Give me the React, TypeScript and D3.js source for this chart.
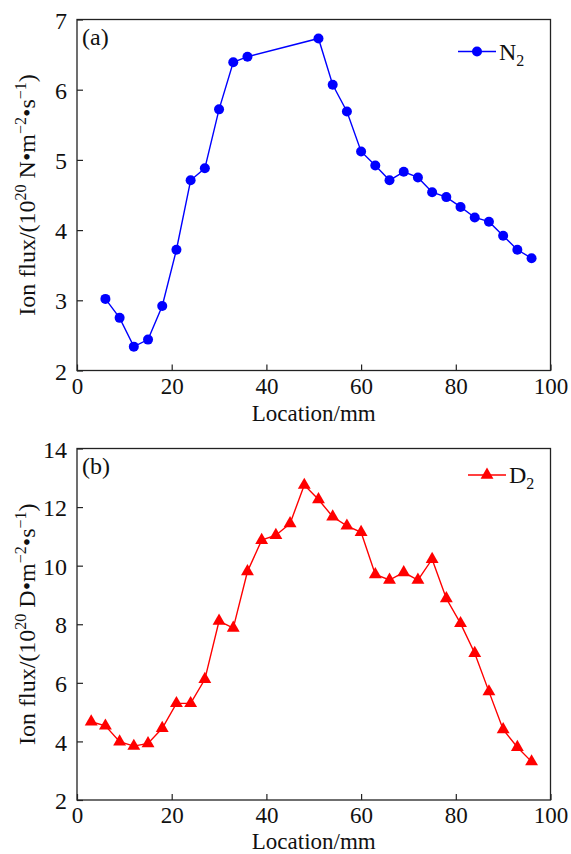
import React, { useEffect, useRef } from "react";
import * as d3 from "d3";

// N2 ion flux along the target (units of 1e20 N·m^-2·s^-1)
const locationN2 = [6, 9, 12, 15, 18, 21, 24, 27, 30, 33, 36, 51, 54, 57, 60, 63, 66, 69, 72, 75, 78, 81, 84, 87, 90, 93, 96];
const fluxN2 = [3.02, 2.75, 2.34, 2.44, 2.92, 3.72, 4.71, 4.88, 5.72, 6.39, 6.47, 6.73, 6.07, 5.69, 5.12, 4.92, 4.71, 4.83, 4.75, 4.54, 4.47, 4.33, 4.18, 4.12, 3.92, 3.72, 3.6];

// D2 ion flux along the target (units of 1e20 D·m^-2·s^-1)
const locationD2 = [3, 6, 9, 12, 15, 18, 21, 24, 27, 30, 33, 36, 39, 42, 45, 48, 51, 54, 57, 60, 63, 66, 69, 72, 75, 78, 81, 84, 87, 90, 93, 96];
const fluxD2 = [4.67, 4.53, 3.99, 3.84, 3.93, 4.45, 5.3, 5.3, 6.12, 8.11, 7.87, 9.8, 10.87, 11.04, 11.44, 12.75, 12.26, 11.67, 11.36, 11.14, 9.7, 9.51, 9.77, 9.51, 10.22, 8.88, 8.03, 7.01, 5.7, 4.41, 3.8, 3.31];

const xTicks = [0, 20, 40, 60, 80, 100];
const yTicksA = [2, 3, 4, 5, 6, 7];
const yTicksB = [2, 4, 6, 8, 10, 12, 14];

const W = 571;
const H = 854;
const FONT = "Liberation Serif, Times New Roman, DejaVu Serif, serif";
const FS = 24;
const TICK_FS = 23;
const SUB = 16;

type Panel = {
  top: number;
  bottom: number;
  xs: number[];
  ys: number[];
  yTicks: number[];
  color: string;
  marker: "circle" | "triangle";
  tag: string;
  species: string;
  legendX: number;
  legendY: number;
  titleY: number;
};

const LEFT = 77;
const RIGHT = 550.5;

const panels: Panel[] = [
  {
    top: 19.5,
    bottom: 370.5,
    xs: locationN2,
    ys: fluxN2,
    yTicks: yTicksA,
    color: "#0000ff",
    marker: "circle",
    tag: "(a)",
    species: "N",
    legendX: 458,
    legendY: 51.5,
    titleY: 421,
  },
  {
    top: 448.5,
    bottom: 800,
    xs: locationD2,
    ys: fluxD2,
    yTicks: yTicksB,
    color: "#ff0000",
    marker: "triangle",
    tag: "(b)",
    species: "D",
    legendX: 468,
    legendY: 475,
    titleY: 849,
  },
];

export default function App() {
  const ref = useRef<SVGSVGElement | null>(null);

  useEffect(() => {
    const svg = d3.select(ref.current);
    svg.selectAll("*").remove();

    panels.forEach((p) => {
      const x = d3.scaleLinear().domain([0, 100]).range([LEFT, RIGHT]);
      const yMin = p.yTicks[0];
      const yMax = p.yTicks[p.yTicks.length - 1];
      const y = d3.scaleLinear().domain([yMin, yMax]).range([p.bottom, p.top]);
      const g = svg.append("g");

      // frame
      g.append("rect")
        .attr("x", LEFT)
        .attr("y", p.top)
        .attr("width", RIGHT - LEFT)
        .attr("height", p.bottom - p.top)
        .attr("fill", "none")
        .attr("stroke", "#222")
        .attr("stroke-width", 1.3);

      // inward ticks on bottom and left axes
      const xAxis = d3.axisBottom(x).tickValues(xTicks).tickSizeInner(-6).tickSizeOuter(0).tickPadding(7).tickFormat(d3.format("d"));
      const gx = g.append("g").attr("transform", `translate(0,${p.bottom})`).call(xAxis);
      gx.select(".domain").remove();
      gx.selectAll("line").attr("stroke", "#222").attr("stroke-width", 1.2);
      gx.selectAll("text")
        .attr("fill", "#111")
        .attr("font-family", FONT)
        .attr("font-size", TICK_FS)
        .attr("dy", "0.7em");

      const yAxis = d3.axisLeft(y).tickValues(p.yTicks).tickSizeInner(-6).tickSizeOuter(0).tickPadding(10).tickFormat(d3.format("d"));
      const gy = g.append("g").attr("transform", `translate(${LEFT},0)`).call(yAxis);
      gy.select(".domain").remove();
      gy.selectAll("line").attr("stroke", "#222").attr("stroke-width", 1.2);
      gy.selectAll("text")
        .attr("fill", "#111")
        .attr("font-family", FONT)
        .attr("font-size", FS)
        .attr("dy", "0.36em");

      // series line
      const line = d3
        .line<number>()
        .x((_, i) => x(p.xs[i]))
        .y((d) => y(d));
      g.append("path")
        .attr("d", line(p.ys) as string)
        .attr("fill", "none")
        .attr("stroke", p.color)
        .attr("stroke-width", 1.4);

      const symbol =
        p.marker === "circle"
          ? d3.symbol().type(d3.symbolCircle).size(Math.PI * 25)
          : d3.symbol().type(d3.symbolTriangle).size(72);

      g.selectAll("path.mark")
        .data(p.ys)
        .enter()
        .append("path")
        .attr("class", "mark")
        .attr("d", symbol() as string)
        .attr("transform", (d, i) => `translate(${x(p.xs[i])},${y(d)})`)
        .attr("fill", p.color);

      // panel tag
      g.append("text")
        .attr("x", LEFT + 5)
        .attr("y", p.top + 25.5)
        .attr("font-family", FONT)
        .attr("font-size", FS)
        .attr("fill", "#111")
        .text(p.tag);

      // legend
      g.append("line")
        .attr("x1", p.legendX)
        .attr("x2", p.legendX + 38)
        .attr("y1", p.legendY)
        .attr("y2", p.legendY)
        .attr("stroke", p.color)
        .attr("stroke-width", 1.4);
      g.append("path")
        .attr("d", symbol() as string)
        .attr("transform", `translate(${p.legendX + 19},${p.legendY})`)
        .attr("fill", p.color);
      const lt = g
        .append("text")
        .attr("x", p.legendX + 41)
        .attr("y", p.legendY + 8)
        .attr("font-family", FONT)
        .attr("font-size", FS)
        .attr("fill", "#111");
      lt.append("tspan").text(p.species);
      lt.append("tspan").attr("font-size", SUB).attr("dy", 6).text("2");

      // x-axis title
      g.append("text")
        .attr("x", (LEFT + RIGHT) / 2)
        .attr("y", p.titleY)
        .attr("text-anchor", "middle")
        .attr("font-family", FONT)
        .attr("font-size", 23)
        .attr("fill", "#111")
        .text("Location/mm");

      // y-axis title
      const cy = (p.top + p.bottom) / 2;
      const yt = g
        .append("text")
        .attr("transform", `translate(35,${cy}) rotate(-90)`)
        .attr("text-anchor", "middle")
        .attr("font-family", FONT)
        .attr("font-size", FS)
        .attr("fill", "#111");
      yt.append("tspan").text("Ion flux/(10");
      yt.append("tspan").attr("font-size", SUB).attr("dy", -9).text("20");
      yt.append("tspan").attr("dy", 9).text(` ${p.species}\u2022m`);
      yt.append("tspan").attr("font-size", SUB).attr("dy", -9).text("\u22122");
      yt.append("tspan").attr("dy", 9).text("\u2022s");
      yt.append("tspan").attr("font-size", SUB).attr("dy", -9).text("\u22121");
      yt.append("tspan").attr("dy", 9).text(")");
    });
  }, []);

  return (
    <svg
      ref={ref}
      width={W}
      height={H}
      viewBox={`0 0 ${W} ${H}`}
      style={{ position: "absolute", left: 0, top: 0, background: "#fff" }}
    />
  );
}
